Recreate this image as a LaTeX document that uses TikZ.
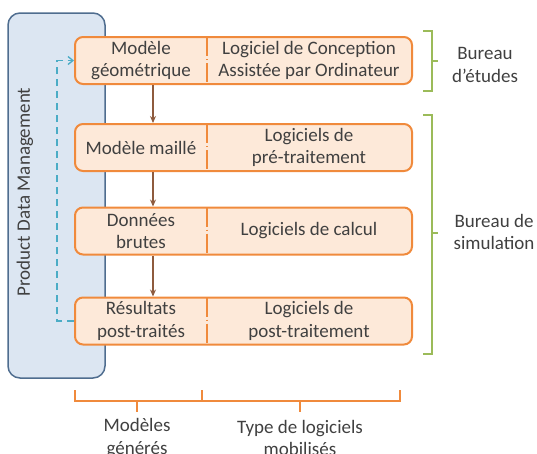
\documentclass[tikz,border=0pt]{standalone}
\usepackage{fontspec}
\setmainfont{Carlito}
\usetikzlibrary{arrows.meta,decorations.pathreplacing,calc}
\definecolor{peach}{HTML}{FDE9D9}
\definecolor{orng}{HTML}{F08A3C}
\definecolor{pdmfill}{HTML}{DCE6F2}
\definecolor{pdmline}{HTML}{4F6D8F}
\definecolor{txt}{HTML}{404040}
\definecolor{brn}{HTML}{8E5B3E}
\definecolor{teal}{HTML}{4BACC6}
\definecolor{grn}{HTML}{9BBB59}
\tikzset{
  box/.style={draw=orng, line width=2pt, fill=peach, rounded corners=8pt, minimum width=337pt, minimum height=47pt, inner sep=0pt},
  lbl/.style={text=txt, font=\fontsize{19}{22.5}\selectfont, align=center, inner sep=0pt},
  div/.style={draw=orng, line width=1.2pt, dash pattern=on 19pt off 3pt on 1pt off 3pt},
  arr/.style={draw=brn, line width=1.3pt, -{Stealth[length=7pt,width=6pt]}},
  pdmlink/.style={draw=teal, line width=1.3pt, dash pattern=on 7pt off 5pt},
  rbrace/.style={draw=grn, line width=1.3pt},
  bbrace/.style={draw=orng, line width=1.3pt},
}
\begin{document}
\begin{tikzpicture}[x=1pt,y=-1pt]
\useasboundingbox (0,0) rectangle (537,453);
% PDM
\node[draw=pdmline, line width=1.5pt, fill=pdmfill, rounded corners=12pt, minimum width=97pt, minimum height=365pt, inner sep=0pt] (pdm) at (56.5,195.5) {};
\node[lbl, rotate=90] (pdmt) at (25,192) {Product Data Management};
% boxes
\node[box] (b1) at (243.5,60.5) {};
\node[box] (b2) at (243.5,147.5) {};
\node[box] (b3) at (243.5,231) {};
\node[box] (b4) at (243.5,321) {};
\foreach \n/\y in {1/60.5,2/147.5,3/231,4/321}{
  \draw[div] (207,\y-23.5) -- (207,\y+23.5);
}
\node[lbl] (m1) at (141,60.5) {Modèle\\géométrique};
\node[lbl] (s1) at (309,60.5) {Logiciel de Conception\\Assistée par Ordinateur};
\node[lbl] (m2) at (141,147.5) {Modèle maillé};
\node[lbl] (s2) at (309,147.5) {Logiciels de\\pré-traitement};
\node[lbl] (m3) at (141,231) {Données\\brutes};
\node[lbl] (s3) at (309,231) {Logiciels de calcul};
\node[lbl] (m4) at (141,321) {Résultats\\post-traités};
\node[lbl] (s4) at (309,321) {Logiciels de\\post-traitement};
% arrows
\coordinate (ax) at (153,0);
\draw[arr] (b1.south -| ax) -- (b2.north -| ax);
\draw[arr] (b2.south -| ax) -- (b3.north -| ax);
\draw[arr] (b3.south -| ax) -- (b4.north -| ax);
% dashed PDM link
\coordinate (dx) at (57,0);
\draw[pdmlink, -{Straight Barb[length=5pt,width=8pt]}] (b4.west) -- (b4.west -| dx) -- (b1.west -| dx) -- (b1.west);
% right braces
\draw[rbrace] (423,31) -- (432,31) -- (432,91) -- (423,91);
\draw[rbrace] (432,61) -- (438,61);
\node[lbl] (be) at (485,65) {Bureau\\d’études};
\draw[rbrace] (423,115) -- (432,115) -- (432,354) -- (423,354);
\draw[rbrace] (432,233) -- (438,233);
\node[lbl] (bs) at (494,232) {Bureau de\\simulation};
% bottom braces
\draw[bbrace] (75,390) -- (75,401) -- (400,401) -- (400,390);
\draw[bbrace] (202,390) -- (202,401);
\draw[bbrace] (137,401) -- (137,412);
\draw[bbrace] (300,401) -- (300,412);
\node[lbl] (mg) at (137,438) {Modèles\\générés};
\node[lbl] (tl) at (300,438) {Type de logiciels\\mobilisés};
\end{tikzpicture}
\end{document}
